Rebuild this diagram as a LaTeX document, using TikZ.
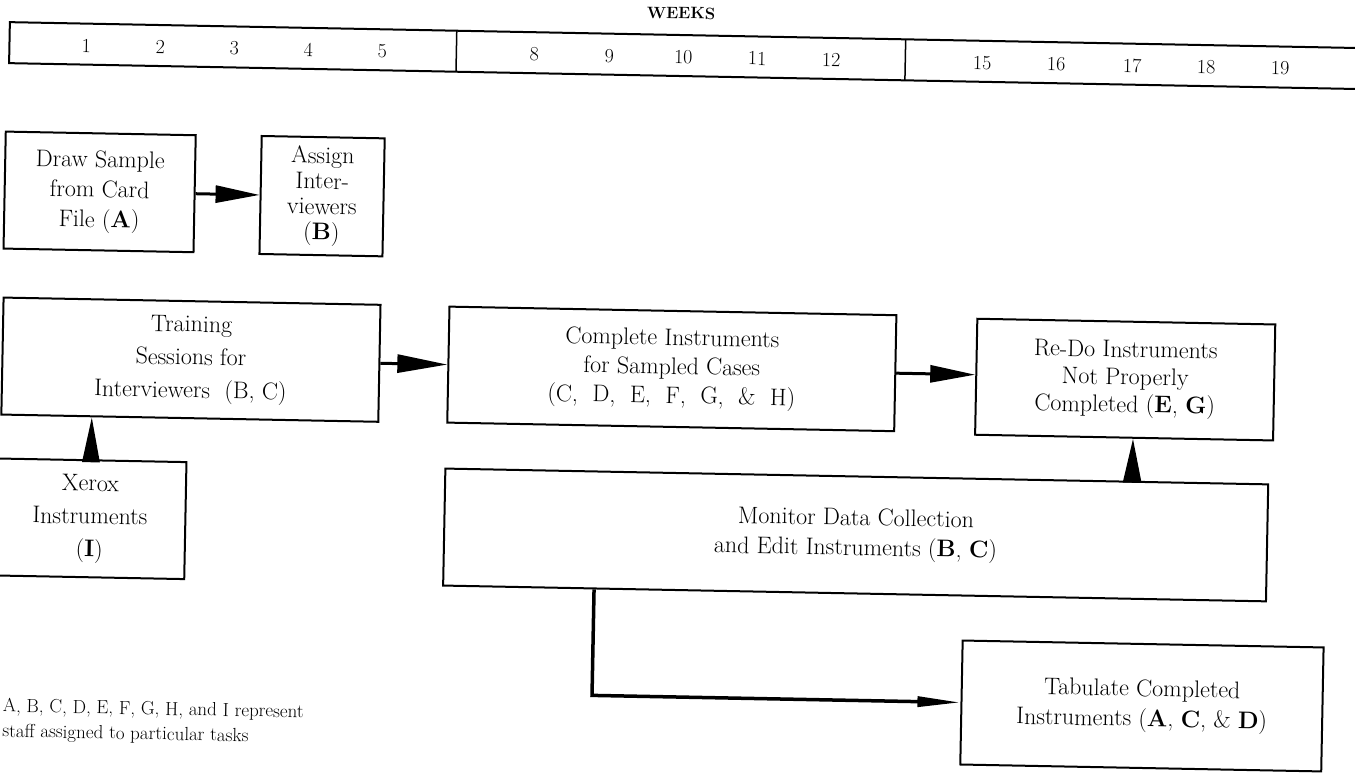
\documentclass[tikz,border=0pt]{standalone}
\usepackage{fontspec}
\usetikzlibrary{arrows.meta}
\begin{document}
\begin{tikzpicture}[x=1pt,y=-1pt,
  box/.style={draw, line width=2pt, inner sep=0pt, align=center},
  f30/.style={font=\fontsize{24}{30}\selectfont},
  conn/.style={line width=3pt, -{Triangle[length=45pt,width=17pt]}},
  num/.style={font=\fontsize{20}{22}\selectfont, inner sep=0pt},
  barline/.style={line width=2pt}
]
\useasboundingbox (0,0) rectangle (1355,772);
\fill[white] (0,0) rectangle (1355,772);
\begin{scope}[rotate around={-1.1:(677,386)}, transform shape]
  % week bar
  \node[font=\bfseries\fontsize{16.5}{20}\selectfont, inner sep=0pt] (weeks) at (674,13) {WEEKS};
  \draw[barline] (1420,35) -- (3,35) -- (3,76) -- (1420,76);
  \draw[barline, line width=1.5pt] (450,35) -- (450,76);
  \draw[barline, line width=1.5pt] (899,35) -- (899,76);
  \foreach \n/\x in {1/80,2/154,3/228,4/302,5/376,8/528,9/603,10/677,11/751,12/825,15/976,16/1050,17/1126,18/1200,19/1274}
    \node[num] (w\n) at (\x,57) {\n};

  % boxes
  \node[box, f30, minimum width=190pt, minimum height=117pt] (drawA) at (96,203)
    {Draw Sample\\from Card\\File (\textbf{A})};
  \node[box, font=\fontsize{24}{25.5}\selectfont, minimum width=123pt, minimum height=118pt] (assign) at (318.5,203)
    {Assign\\Inter-\\viewers\\(\textbf{B})};
  \node[box, font=\fontsize{24}{33}\selectfont, minimum width=377pt, minimum height=117pt] (train) at (190.5,369)
    {Training\\Sessions for\\Interviewers\ \ (B, C)};
  \node[box, font=\fontsize{24}{33}\selectfont, minimum width=191pt, minimum height=117pt] (xerox) at (92.5,530)
    {Xerox\\Instruments\\(\textbf{I})};
  \node[box, font=\fontsize{24}{29}\selectfont, minimum width=447pt, minimum height=116pt] (comp) at (671.5,369)
    {Complete Instruments\\for Sampled Cases\\(C,\ \ D,\ \ E,\ \ F,\ \ G,\ \ \&\ \ H)};
  \node[box, font=\fontsize{24}{27.5}\selectfont, minimum width=298pt, minimum height=116pt] (redo) at (1125,371)
    {Re-Do Instruments\\Not Properly\\Completed (\textbf{E},\ \textbf{G})};
  \node[box, f30, minimum width=823pt, minimum height=117pt] (mon) at (858.5,531.5)
    {Monitor Data Collection\\and Edit Instruments (\textbf{B},\ \textbf{C})};
  \node[box, f30, minimum width=361pt, minimum height=124pt] (tab) at (1148,697)
    {Tabulate Completed\\Instruments (\textbf{A},\ \textbf{C},\ \&\ \textbf{D})};

  % footnote
  \node[anchor=west, align=left, inner sep=0pt, font=\fontsize{19}{25}\selectfont] (note) at (9,732.5)
    {A, B, C, D, E, F, G, H, and I represent\\staff assigned to particular tasks};

  % connectors
  \draw[conn, -{Triangle[length=44pt,width=17pt]}] (drawA) -- (assign);
  \draw[conn, -{Triangle[length=50pt,width=18pt]}] (train) -- (comp);
  \draw[conn] (comp.east) -- (comp.east -| redo.west);
  \draw[conn] (xerox.north) -- (xerox.north |- train.south);
  \coordinate (mr) at (1134,450);
  \draw[conn, -{Triangle[length=44pt,width=18pt]}] (mon.north -| mr) -- (redo.south -| mr);
  \coordinate (ml) at (598,650);
  \draw[conn, line width=3.5pt, -{Triangle[length=43pt,width=10pt]}] (mon.south -| ml) |- (tab.west);
\end{scope}
\end{tikzpicture}
\end{document}
